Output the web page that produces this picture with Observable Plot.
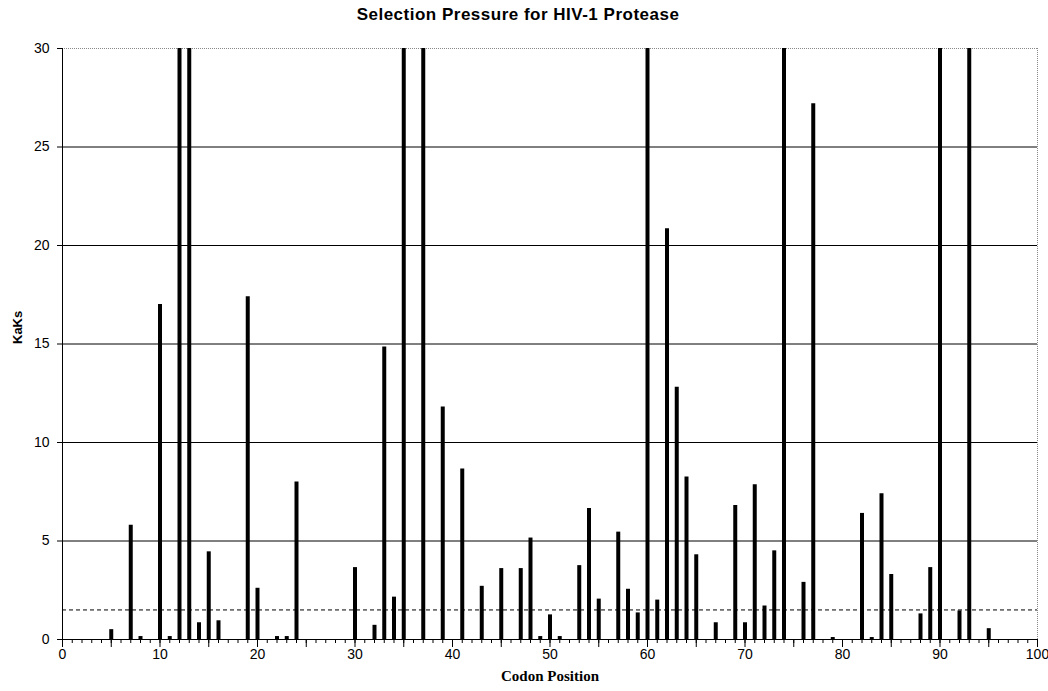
<!DOCTYPE html>
<html><head><meta charset="utf-8">
<script src="https://cdn.jsdelivr.net/npm/d3@7"></script>
<script src="https://cdn.jsdelivr.net/npm/@observablehq/plot@0.6"></script>
<style>
body{margin:0;background:#fff;}
#wrap{position:relative;width:1048px;height:691px;}
#title{position:absolute;top:5px;left:0;width:1036px;text-align:center;font:bold 17px "Liberation Sans",Arial,sans-serif;letter-spacing:0.5px;color:#000;}
#chart{position:absolute;top:0;left:0;}
</style></head><body>
<div id="wrap"><div id="title">Selection Pressure for HIV-1 Protease</div><div id="chart"></div></div>
<script>
// Codon positions with a visible KaKs bar (bars reaching the top are clipped at 30)
const codons = [5,7,8,10,11,12,13,14,15,16,19,20,22,23,24,30,32,33,34,35,37,39,41,43,45,47,48,49,50,51,53,54,55,57,58,59,60,61,62,63,64,65,67,69,70,71,72,73,74,76,77,79,82,83,84,85,88,89,90,92,93,95];
const kaks =   [0.5,5.8,0.15,17.0,0.15,30,30,0.85,4.45,0.95,17.4,2.6,0.15,0.15,8.0,3.65,0.72,14.85,2.15,30,30,11.8,8.65,2.7,3.6,3.6,5.15,0.15,1.25,0.15,3.75,6.65,2.05,5.45,2.55,1.35,30,2.0,20.85,12.8,8.25,4.3,0.85,6.8,0.85,7.85,1.7,4.5,30,2.9,27.2,0.1,6.4,0.1,7.4,3.3,1.3,3.65,30,1.45,30,0.55];
const yTicks = [0,5,10,15,20,25,30];
const xTicks = [0,10,20,30,40,50,60,70,80,90,100];
const threshold = [1.5];

const data = codons.map((c, i) => ({codon: c, kaks: kaks[i]}));
const minor = d3.range(0, 101);
const mid = minor.filter(v => v % 5 === 0);

const plot = Plot.plot({
  width: 1048, height: 691,
  marginTop: 48, marginBottom: 52, marginLeft: 62, marginRight: 11,
  x: {domain: [0, 100]},
  y: {domain: [0, 30]},
  style: {fontFamily: '"Liberation Sans",Arial,sans-serif', fontSize: "14px", color: "#000", background: "transparent"},
  marks: [
    Plot.ruleY(yTicks.filter(v => v > 0 && v < 30), {stroke: "#000", strokeWidth: 1}),
    Plot.ruleY([30], {stroke: "#888", strokeDasharray: "1,1"}),
    Plot.ruleX([100], {stroke: "#888", strokeDasharray: "1,1"}),
    Plot.ruleY(threshold, {stroke: "#000", strokeDasharray: "4,3"}),
    Plot.ruleX(data, {x: "codon", y1: 0, y2: "kaks", stroke: "#000", strokeWidth: 4}),
    Plot.ruleX([0], {stroke: "#000"}),
    Plot.ruleY([0], {stroke: "#000"}),
    Plot.axisY({ticks: yTicks, tickSize: 5, tickPadding: 8, label: null}),
    Plot.axisX({ticks: minor, tickSize: 4, tickFormat: () => "", label: null}),
    Plot.axisX({ticks: mid, tickSize: 8, tickFormat: () => "", label: null}),
    Plot.axisX({ticks: xTicks, tickSize: 0, tickPadding: 10, label: null}),
    Plot.text(["KaKs"], {frameAnchor: "left", dx: -45, rotate: -90, fontWeight: "bold", fontSize: 13, fontFamily: '"Liberation Sans",Arial,sans-serif'}),
    Plot.text(["Codon Position"], {frameAnchor: "bottom", dy: 41, fontWeight: "bold", fontSize: 15, fontFamily: '"Liberation Serif","Times New Roman",serif', style: "letter-spacing:0.6px"})
  ]
});
document.getElementById("chart").appendChild(plot);
</script>
</body></html>
